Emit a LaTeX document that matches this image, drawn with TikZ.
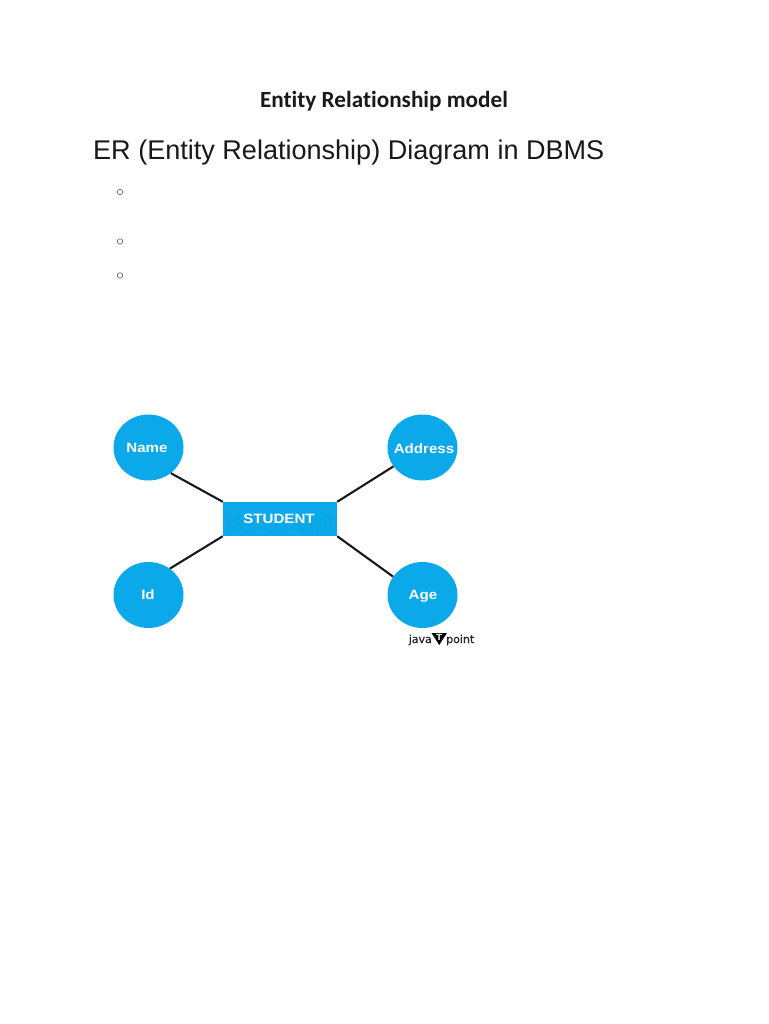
\documentclass[tikz,border=0pt]{standalone}
\usepackage{fontspec}
\setmainfont{Liberation Sans}
\newfontfamily\titlefont[Ligatures=NoCommon,Contextuals=NoAlternate]{Carlito}
\newfontfamily\labelfont[FakeStretch=1.12]{Liberation Sans}
\newfontfamily\markfont{DejaVu Sans}
\newfontfamily\logofont[FakeBold=0.6]{DejaVu Sans}
\definecolor{erblue}{HTML}{0BA9E9}
\definecolor{ermark}{HTML}{0BA4E3}
\tikzset{
  attr/.style={ellipse,fill=erblue,minimum width=70pt,minimum height=66pt,inner sep=0pt},
  entity/.style={rectangle,fill=erblue,minimum width=114pt,minimum height=34pt,inner sep=0pt},
  lbl/.style={text=white,inner sep=0pt,font=\labelfont\bfseries\fontsize{13.5}{16}\selectfont},
  link/.style={line width=2.1pt,black!90},
  bullet/.style={circle,draw=black!65,line width=0.6pt,minimum size=5.5pt,inner sep=0pt},
  logotext/.style={inner sep=0pt,text=black!85,font=\logofont\fontsize{11}{13}\selectfont}
}
\usetikzlibrary{shapes.geometric}
\begin{document}
\begin{tikzpicture}[x=1pt,y=-1pt]
\useasboundingbox[fill=white] (0,0) rectangle (768,1024);
\node[inner sep=0pt,font=\titlefont\bfseries\fontsize{23.2}{26}\selectfont,text=black!90] (title) at (384,101) {Entity Relationship model};
\node[inner sep=0pt,anchor=base west,font=\fontsize{27.05}{32}\selectfont,text=black!90] (heading) at (93,159.5) {ER (Entity Relationship) Diagram in DBMS};
\node[bullet] (b1) at (120,192) {};
\node[bullet] (b2) at (120,241.5) {};
\node[bullet] (b3) at (120,275.5) {};
\node[attr] (name) at (148.5,447.5) {};
\node[attr] (address) at (422.5,447.5) {};
\node[attr] (id) at (148.5,595) {};
\node[attr] (age) at (422.5,595) {};
\node[entity] (student) at (280,519) {};
\draw[link] (name.-49) -- (student.north west);
\draw[link] (address.-147) -- (student.north east);
\draw[link] (id.51) -- (student.south west);
\draw[link] (age.148) -- (student.south east);
\node[inner sep=0pt,text=ermark,font=\markfont\fontsize{21}{24}\selectfont] (wm) at (281,525) {javaTpoint};
\node[lbl] (tname) at (147,448) {Name};
\node[lbl] (taddress) at (424,449) {Address};
\node[lbl] (tid) at (148,595) {Id};
\node[lbl] (tage) at (423,596) {Age};
\node[lbl] (tstudent) at (279,519) {STUDENT};
\node[logotext,anchor=base east] (logo1) at (432,643) {java};
\node[logotext,anchor=base west] (logo2) at (446,643) {point};
\fill[black] (431.5,633) -- (447,633) -- (439.2,645) -- cycle;
\node[inner sep=0pt,text=white,font=\labelfont\bfseries\fontsize{9}{10}\selectfont] (logot) at (439.2,637.5) {T};
\end{tikzpicture}
\end{document}
